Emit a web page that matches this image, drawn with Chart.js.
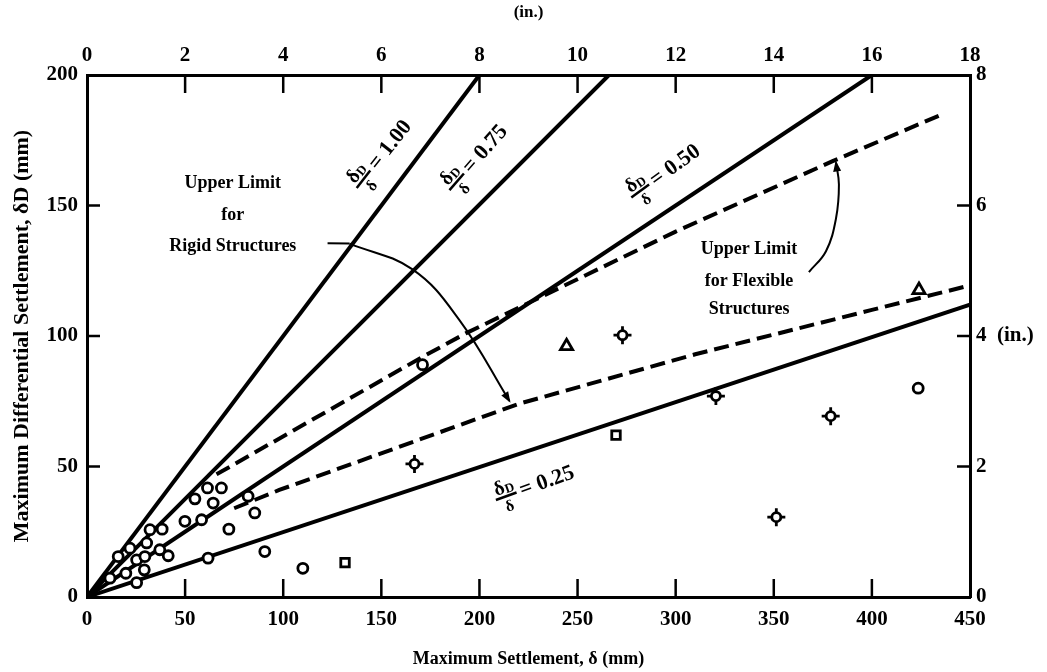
<!DOCTYPE html>
<html>
<head>
<meta charset="utf-8">
<script src="https://cdn.jsdelivr.net/npm/chart.js@4/dist/chart.umd.min.js"></script>
<style>
html, body { margin: 0; padding: 0; background: #fff; }
</style>
</head>
<body>
<canvas id="myChart" width="1047" height="672"></canvas>
<script>
// ratio lines dD/d, drawn from the origin to where they leave the plot
var ratioNames = ['1.00', '0.75', '0.50', '0.25'];
var ratioEndX = [200, 266, 400, 450];
var ratioEndY = [200, 200, 200, 112];

// upper limit for rigid structures (lower dashed) and flexible structures (upper dashed)
var rigidX = [75, 98, 220, 310, 400, 448];
var rigidY = [34, 41, 74, 93, 110, 119];
var flexX = [66, 171, 193, 300, 380, 436];
var flexY = [47, 92, 101, 140, 167, 185];

// measured buildings
var circleX = [11.7, 15.9, 21.9, 19.8, 25.3, 25.3, 29.5, 30.4, 29.2, 32.1, 38.3, 37.1, 41.4, 49.9, 55, 58.4, 61.4, 64.3, 68.5, 72.3, 61.7, 82.1, 85.5, 90.6, 110, 171, 423.6];
var circleY = [7.2, 15.5, 18.7, 9.1, 14.2, 5.5, 15.5, 20.7, 10.4, 25.8, 26, 18.1, 15.8, 29, 37.6, 29.6, 41.8, 36, 41.8, 26, 14.9, 38.6, 32.2, 17.4, 11, 89, 80];
var crossX = [166.9, 272.9, 320.5, 351.3, 379];
var crossY = [51, 100.3, 77, 30.6, 69.3];
var squareX = [131.5, 269.6];
var squareY = [13.2, 62];
var triangleX = [244.4, 424];
var triangleY = [96.1, 117.6];

// leader curves to the two "upper limit" labels
var rigidArrowX = [133.8, 165.9, 189.8, 215.3];
var rigidArrowY = [135.4, 125.5, 106.1, 75.1];
var flexArrowX = [367.9, 376.6, 381.7, 383.2, 381.7];
var flexArrowY = [124.5, 132.5, 145, 158, 166.5];

var FONT = '"Liberation Serif", "Times New Roman", serif';

function pts(xs, ys) {
    var out = [];
    for (var i = 0; i < xs.length; i++) {
        out.push({x: xs[i], y: ys[i]});
    }
    return out;
}

function lineSet(data, dashed, width, tension) {
    return {
        data: data,
        showLine: true,
        borderColor: '#000',
        borderWidth: width,
        borderDash: dashed ? [15, 7] : [],
        pointRadius: 0,
        tension: tension || 0,
        fill: false,
        order: 5
    };
}

function markSet(data, style, radius, fill, order) {
    return {
        data: data,
        showLine: false,
        pointStyle: style,
        pointRadius: radius,
        pointBorderWidth: 2.8,
        pointBorderColor: '#000',
        pointBackgroundColor: fill,
        order: order
    };
}

var datasets = [];
ratioNames.forEach(function(n, i) {
    datasets.push(lineSet([{x: 0, y: 0}, {x: ratioEndX[i], y: ratioEndY[i]}], false, 4));
});
datasets.push(lineSet(pts(rigidX, rigidY), true, 4));
datasets.push(lineSet(pts(flexX, flexY), true, 4));
datasets.push(lineSet(pts(rigidArrowX, rigidArrowY), false, 2, 0.4));
datasets.push(lineSet(pts(flexArrowX, flexArrowY), false, 2, 0.4));
datasets.push(markSet(pts(circleX, circleY), 'circle', 5, '#fff', 1));
datasets.push(markSet(pts(crossX, crossY), 'circle', 4.5, '#fff', 0));
datasets.push(markSet(pts(crossX, crossY), 'cross', 9, '#fff', 2));
datasets.push(markSet(pts(squareX, squareY), 'rect', 6, '#fff', 1));
datasets.push(markSet(pts(triangleX, triangleY), 'triangle', 7, '#fff', 1));

function tickFont() {
    return {family: FONT, size: 21, weight: 'bold'};
}

function fracLabel(ctx, px, py, ang, val) {
    ctx.save();
    ctx.translate(px, py);
    ctx.rotate(ang * Math.PI / 180);
    ctx.fillStyle = '#000';
    ctx.textBaseline = 'alphabetic';
    ctx.textAlign = 'center';
    ctx.font = 'bold 20px ' + FONT;
    ctx.fillText('δ', -4, -4);
    ctx.font = 'bold 13px ' + FONT;
    ctx.fillText('D', 6, -3);
    ctx.fillRect(-11, -1.5, 22, 2.5);
    ctx.font = 'bold 16px ' + FONT;
    ctx.fillText('δ', 0, 15);
    ctx.font = 'bold 22px ' + FONT;
    ctx.textAlign = 'left';
    ctx.textBaseline = 'middle';
    ctx.fillText('= ' + val, 15, 0);
    ctx.restore();
}

function arrowHead(ctx, x0, y0, x1, y1) {
    var a = Math.atan2(y1 - y0, x1 - x0);
    ctx.save();
    ctx.translate(x1, y1);
    ctx.rotate(a);
    ctx.beginPath();
    ctx.moveTo(2, 0);
    ctx.lineTo(-9, -4);
    ctx.lineTo(-9, 4);
    ctx.closePath();
    ctx.fill();
    ctx.restore();
}

var extras = {
    id: 'extras',
    afterDraw: function(chart) {
        var ctx = chart.ctx;
        var a = chart.chartArea;
        var s = chart.scales;
        var X = function(v) { return s.x.getPixelForValue(v); };
        var Y = function(v) { return s.y.getPixelForValue(v); };

        // tick marks pointing into the plot
        ctx.save();
        ctx.strokeStyle = '#000';
        ctx.lineWidth = 2.5;
        ctx.beginPath();
        s.x.ticks.forEach(function(t) {
            if (t.value <= s.x.min || t.value >= s.x.max) return;
            var p = s.x.getPixelForValue(t.value);
            ctx.moveTo(p, a.bottom);
            ctx.lineTo(p, a.bottom - 18);
        });
        s.xTop.ticks.forEach(function(t) {
            if (t.value <= s.xTop.min || t.value >= s.xTop.max) return;
            var p = s.xTop.getPixelForValue(t.value);
            ctx.moveTo(p, a.top);
            ctx.lineTo(p, a.top + 18);
        });
        s.y.ticks.forEach(function(t) {
            if (t.value <= s.y.min || t.value >= s.y.max) return;
            var p = s.y.getPixelForValue(t.value);
            ctx.moveTo(a.left, p);
            ctx.lineTo(a.left + 13, p);
        });
        s.yRight.ticks.forEach(function(t) {
            if (t.value <= s.yRight.min || t.value >= s.yRight.max) return;
            var p = s.yRight.getPixelForValue(t.value);
            ctx.moveTo(a.right, p);
            ctx.lineTo(a.right - 13, p);
        });
        ctx.stroke();

        // leader stub and arrow heads
        ctx.lineWidth = 2;
        ctx.beginPath();
        ctx.moveTo(X(122.6), Y(135.5));
        ctx.lineTo(X(rigidArrowX[0]), Y(rigidArrowY[0]));
        ctx.stroke();
        ctx.fillStyle = '#000';
        var n = rigidArrowX.length;
        arrowHead(ctx, X(rigidArrowX[n - 2]), Y(rigidArrowY[n - 2]), X(rigidArrowX[n - 1]), Y(rigidArrowY[n - 1]));
        n = flexArrowX.length;
        arrowHead(ctx, X(flexArrowX[n - 2]), Y(flexArrowY[n - 2]), X(flexArrowX[n - 1]), Y(flexArrowY[n - 1]));

        // text labels
        ctx.textAlign = 'center';
        ctx.textBaseline = 'middle';
        ctx.font = 'bold 18px ' + FONT;
        ctx.fillText('Upper Limit', X(74.3), Y(158.5));
        ctx.fillText('for', X(74.3), Y(146.2));
        ctx.fillText('Rigid Structures', X(74.3), Y(134.2));
        ctx.fillText('Upper Limit', X(337.4), Y(133.2));
        ctx.fillText('for Flexible', X(337.4), Y(121));
        ctx.fillText('Structures', X(337.4), Y(110.2));

        fracLabel(ctx, X(141), Y(160), -52, '1.00');
        fracLabel(ctx, X(188.5), Y(159), -49, '0.75');
        fracLabel(ctx, X(282), Y(155.5), -36, '0.50');
        fracLabel(ctx, X(213.7), Y(38.5), -20, '0.25');
        ctx.restore();
    }
};

var axisCommon = {
    grid: {display: false, drawTicks: false},
    border: {display: true, color: '#000', width: 3}
};

var ctx = document.getElementById('myChart').getContext('2d');
var myChart = new Chart(ctx, {
    type: 'scatter',
    data: {datasets: datasets},
    options: {
        responsive: false,
        animation: false,
        layout: {padding: 0},
        plugins: {legend: {display: false}, tooltip: {enabled: false}},
        scales: {
            x: Object.assign({
                type: 'linear', position: 'bottom', min: 0, max: 450,
                ticks: {stepSize: 50, color: '#000', font: tickFont(), padding: 10, autoSkip: false, maxRotation: 0},
                title: {display: true, text: 'Maximum Settlement, δ (mm)', color: '#000',
                        font: {family: FONT, size: 18, weight: 'bold'}, padding: {top: 0, bottom: 2}},
                afterFit: function(sc) { sc.height = 75; }
            }, axisCommon),
            xTop: Object.assign({
                type: 'linear', position: 'top', axis: 'x', min: 0, max: 18,
                ticks: {stepSize: 2, color: '#000', font: tickFont(), padding: 7, autoSkip: false, maxRotation: 0},
                title: {display: true, text: '(in.)', color: '#000',
                        font: {family: FONT, size: 17, weight: 'bold'}, padding: {top: 2, bottom: 0}},
                afterFit: function(sc) { sc.height = 75; }
            }, axisCommon),
            y: Object.assign({
                type: 'linear', position: 'left', min: 0, max: 200,
                ticks: {stepSize: 50, color: '#000', font: tickFont(), padding: 9, autoSkip: false},
                title: {display: true, text: 'Maximum Differential Settlement, δD (mm)', color: '#000',
                        font: {family: FONT, size: 22, weight: 'bold'}, padding: {top: 9, bottom: 0}},
                afterFit: function(sc) { sc.width = 87; }
            }, axisCommon),
            yRight: Object.assign({
                type: 'linear', position: 'right', axis: 'y', min: 0, max: 8,
                ticks: {stepSize: 2, color: '#000', font: tickFont(), padding: 6, autoSkip: false,
                        callback: function(v) { return v === 4 ? '4  (in.)' : v; }},
                afterFit: function(sc) { sc.width = 77; }
            }, axisCommon)
        }
    },
    plugins: [extras]
});
</script>
</body>
</html>
